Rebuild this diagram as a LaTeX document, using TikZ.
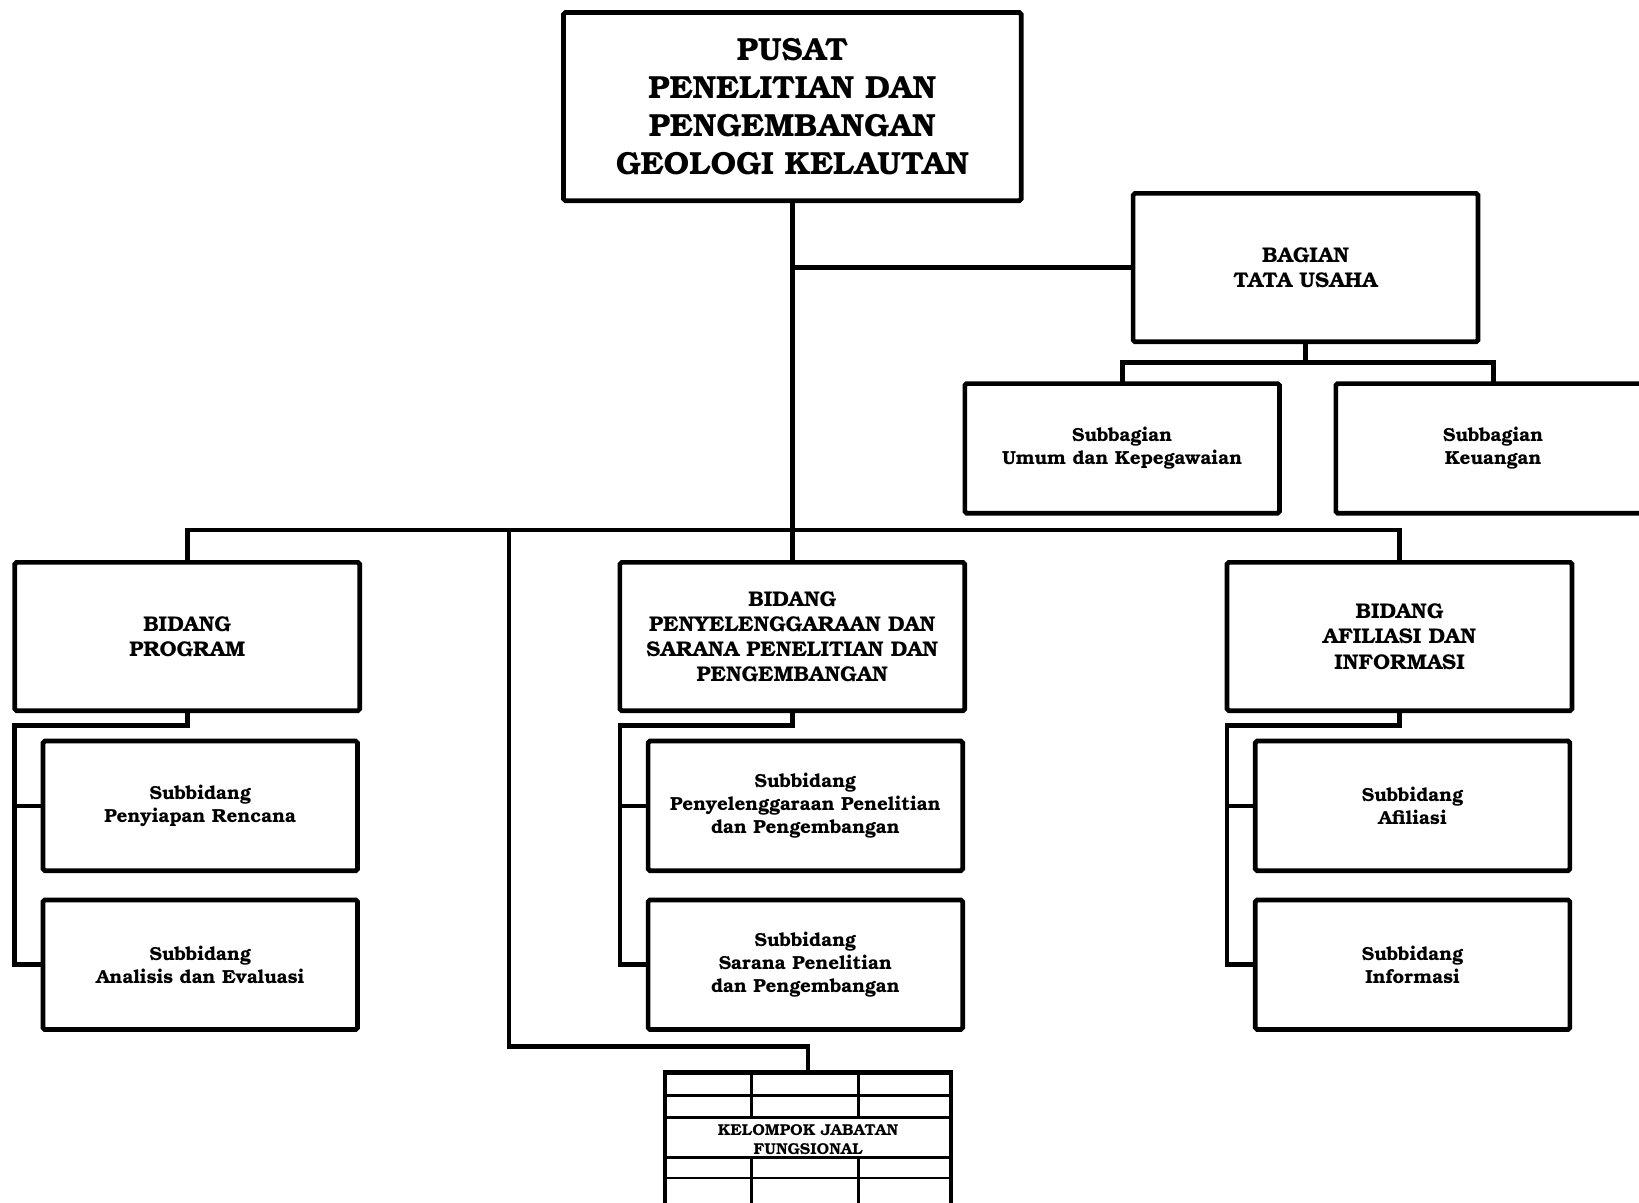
\documentclass[tikz,border=0pt]{standalone}
\usepackage{fontspec}
\setmainfont{TeX Gyre Bonum}
\usetikzlibrary{positioning}

\begin{document}
\begin{tikzpicture}[
      x=0.02cm, y=-0.02cm,
      line width=0.09cm,
      head/.style={rectangle,rounded corners=1pt,draw,outer sep=0pt,align=center,minimum width=8.76cm,minimum height=3.6cm,font=\bfseries\fontsize{17.4}{20.8}\selectfont},
      unit/.style={rectangle,rounded corners=1pt,draw,outer sep=0pt,align=center,minimum width=6.6cm,minimum height=2.84cm,font=\bfseries\fontsize{11.6}{13.7}\selectfont},
      subunit/.style={rectangle,rounded corners=1pt,draw,outer sep=0pt,align=center,minimum width=6.02cm,minimum height=2.48cm,font=\bfseries\fontsize{10.3}{12.5}\selectfont},
      jfbox/.style={rectangle,draw,outer sep=0pt,align=center,line width=0.08cm,minimum width=5.48cm,minimum height=2.56cm,font=\bfseries\fontsize{8.6}{10.2}\selectfont},
      grid/.style={line width=0.055cm}
    ]
    \useasboundingbox (0,0) rectangle (1568,1150);
    \node[head] (pusat) at (758,102) {PUSAT\\PENELITIAN DAN\\PENGEMBANGAN\\GEOLOGI KELAUTAN};
    \node[unit] (tu) at (1249,256) {BAGIAN\\TATA USAHA};
    \node[subunit,below=0.8cm of tu,xshift=-3.51cm] (umum) {Subbagian\\Umum dan Kepegawaian};
    \node[subunit,below=0.8cm of tu,xshift=3.59cm] (keu) {Subbagian\\Keuangan};
    \node[unit] (sel) at (758,609) {BIDANG\\PENYELENGGARAAN DAN\\SARANA PENELITIAN DAN\\PENGEMBANGAN};
    \node[unit,left=4.98cm of sel] (prog) {BIDANG\\PROGRAM};
    \node[unit,right=5.02cm of sel] (afi) {BIDANG\\AFILIASI DAN\\INFORMASI};
    \node[subunit,below=0.58cm of prog,xshift=0.25cm] (prog1) {Subbidang\\Penyiapan Rencana};
    \node[subunit,below=0.56cm of prog1] (prog2) {Subbidang\\Analisis dan Evaluasi};
    \node[subunit,below=0.58cm of sel,xshift=0.25cm] (sel1) {Subbidang\\Penyelenggaraan Penelitian\\dan Pengembangan};
    \node[subunit,below=0.56cm of sel1] (sel2) {Subbidang\\Sarana Penelitian\\dan Pengembangan};
    \node[subunit,below=0.58cm of afi,xshift=0.25cm] (afi1) {Subbidang\\Afiliasi};
    \node[subunit,below=0.56cm of afi1] (afi2) {Subbidang\\Informasi};
    \node[jfbox] (jf) at (773,1090) {KELOMPOK JABATAN\\FUNGSIONAL};
    \foreach \ry in {1048,1069,1107,1127}
      \draw[grid] (636,\ry) -- (910,\ry);
    \foreach \cx in {719,821} {
      \draw[grid] (\cx,1026) -- (\cx,1069);
      \draw[grid] (\cx,1107) -- (\cx,1154);
    }
    \coordinate[above=0.62cm of sel] (hub);
    \coordinate[left=5.42cm of hub] (jfdrop);
    \coordinate[above=0.5cm of jf] (jfknee);
    \coordinate[below=0.4cm of tu] (tuknee);
    \coordinate[below=0.28cm of prog] (progknee);
    \coordinate[below=0.28cm of sel] (selknee);
    \coordinate[below=0.28cm of afi] (afiknee);
    \draw (pusat) -- (sel);
    \draw (pusat.south |- tu) -- (tu);
    \draw (tu) -- (tuknee);
    \draw (umum) |- (tuknee) -| (keu);
    \draw (prog) |- (hub) -| (afi);
    \draw (jfdrop) |- (jfknee) -- (jf);
    \draw (prog) -- (progknee) -| (prog.west |- prog2) -- (prog2);
    \draw (prog.west |- prog1) -- (prog1);
    \draw (sel) -- (selknee) -| (sel.west |- sel2) -- (sel2);
    \draw (sel.west |- sel1) -- (sel1);
    \draw (afi) -- (afiknee) -| (afi.west |- afi2) -- (afi2);
    \draw (afi.west |- afi1) -- (afi1);
  \end{tikzpicture}
\end{document}
